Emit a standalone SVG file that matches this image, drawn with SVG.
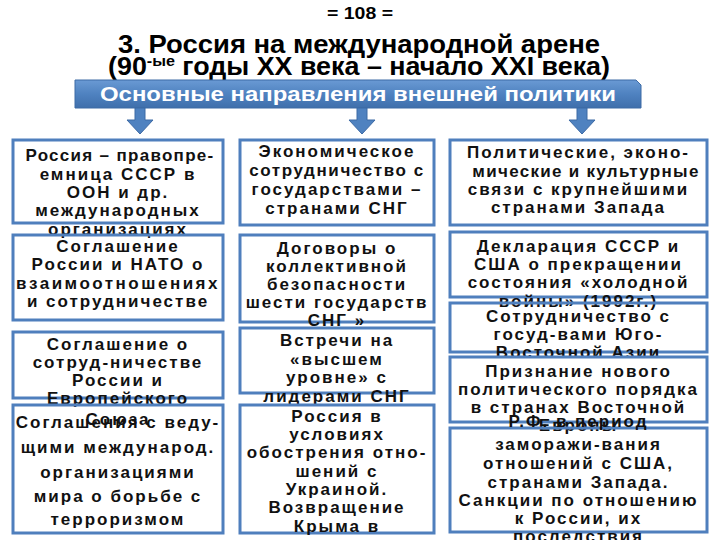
<svg xmlns="http://www.w3.org/2000/svg" width="720" height="540" viewBox="0 0 720 540">
<defs>
<linearGradient id="barG" x1="0" y1="0" x2="0" y2="1">
<stop offset="0" stop-color="#6a9ad4"/>
<stop offset="0.5" stop-color="#4f82c0"/>
<stop offset="1" stop-color="#3f6fab"/>
</linearGradient>
<style>
.t{font-family:"Liberation Sans",Arial,sans-serif;font-weight:bold;fill:#000}
.bx{fill:none;stroke:#4f7fbd;stroke-width:3}
.b{font-family:"Liberation Sans",Arial,sans-serif;font-weight:bold;font-size:17px;letter-spacing:2px;fill:#111;text-anchor:middle}
.arr{fill:#4f82c0;stroke:#3d6aa5;stroke-width:1}
</style>
</defs>
<rect width="720" height="540" fill="#fff"/>
<g id="title">
<text class="t" x="360" y="19" font-size="16" text-anchor="middle" textLength="66" lengthAdjust="spacingAndGlyphs">= 108 =</text>
<text class="t" x="359" y="53" font-size="25" text-anchor="middle" textLength="482" lengthAdjust="spacingAndGlyphs">3. Россия на международной арене</text>
<text class="t" x="359" y="75" font-size="25" text-anchor="middle" textLength="502" lengthAdjust="spacingAndGlyphs">(90<tspan font-size="15" dy="-9">-ые</tspan><tspan dy="9"> годы XX века – начало XXI века)</tspan></text>
</g>
<g id="header">
<polygon points="75,80 636,80 641,85 641,108 75,108" fill="url(#barG)" stroke="#3d6aa5" stroke-width="1"/>
<text x="358" y="101" font-family="'Liberation Sans',Arial,sans-serif" font-weight="bold" font-size="20" fill="#fff" text-anchor="middle" textLength="516" lengthAdjust="spacingAndGlyphs">Основные направления внешней политики</text>
</g>
<g id="connectors">
<polygon class="arr" points="135,108 145,108 145,120 153,120 140,134 127,120 135,120"/>
<polygon class="arr" points="357,108 367,108 367,120 375,120 362,134 349,120 357,120"/>
<polygon class="arr" points="577,108 587,108 587,120 595,120 582,134 569,120 577,120"/>
</g>
<g id="a1">
<rect class="bx" x="13" y="140" width="210" height="83"/>
<text class="b"><tspan x="120" y="161" letter-spacing="1.3">Россия – правопре-</tspan><tspan x="118" y="179.5">емница СССР в</tspan><tspan x="118" y="198">ООН и др.</tspan><tspan x="118" y="216">международных</tspan><tspan x="118" y="234.5">организациях</tspan></text>
</g>
<g id="a2">
<rect class="bx" x="13" y="235" width="210" height="85"/>
<text class="b"><tspan x="118" y="252">Соглашение</tspan><tspan x="118" y="270">России и НАТО о</tspan><tspan x="118" y="288.5" letter-spacing="2.5">взаимоотношениях</tspan><tspan x="118" y="306.5">и сотрудничестве</tspan></text>
</g>
<g id="a3">
<rect class="bx" x="13" y="332" width="210" height="66"/>
<text class="b"><tspan x="118" y="350">Соглашение о</tspan><tspan x="118" y="368">сотруд-ничестве</tspan><tspan x="118" y="386">России и</tspan><tspan x="118" y="404">Европейского</tspan><tspan x="118" y="425">Союза</tspan></text>
</g>
<g id="a4">
<rect class="bx" x="13" y="405" width="210" height="128"/>
<text class="b"><tspan x="118" y="428">Соглашения с веду-</tspan><tspan x="118" y="453">щими международ.</tspan><tspan x="118" y="478">организациями</tspan><tspan x="118" y="502">мира о борьбе с</tspan><tspan x="118" y="525">терроризмом</tspan></text>
</g>
<g id="b1">
<rect class="bx" x="240" y="140" width="194" height="85"/>
<text class="b"><tspan x="337" y="157">Экономическое</tspan><tspan x="337" y="176" letter-spacing="1.6">сотрудничество с</tspan><tspan x="337" y="195">государствами –</tspan><tspan x="337" y="214">странами СНГ</tspan></text>
</g>
<g id="b2">
<rect class="bx" x="240" y="235" width="194" height="87"/>
<text class="b"><tspan x="337" y="254">Договоры о</tspan><tspan x="337" y="272">коллективной</tspan><tspan x="337" y="290">безопасности</tspan><tspan x="337" y="308">шести государств</tspan><tspan x="337" y="326">СНГ »</tspan></text>
</g>
<g id="b3">
<rect class="bx" x="240" y="328" width="194" height="65"/>
<text class="b"><tspan x="337" y="346">Встречи на</tspan><tspan x="337" y="364.5">«высшем</tspan><tspan x="337" y="383">уровне» с</tspan><tspan x="337" y="401.5">лидерами СНГ</tspan></text>
</g>
<g id="b4">
<rect class="bx" x="240" y="405" width="194" height="128"/>
<text class="b"><tspan x="337" y="421.5">Россия в</tspan><tspan x="337" y="440">условиях</tspan><tspan x="337" y="458">обострения отно-</tspan><tspan x="337" y="476.5">шений с</tspan><tspan x="337" y="495">Украиной.</tspan><tspan x="337" y="513">Возвращение</tspan><tspan x="337" y="532">Крыма в</tspan></text>
</g>
<g id="c1">
<rect class="bx" x="450" y="140" width="257" height="85"/>
<text class="b"><tspan x="578.5" y="158">Политические, эконо-</tspan><tspan x="586" y="176.5" letter-spacing="1.3">мические и культурные</tspan><tspan x="578.5" y="195">связи с крупнейшими</tspan><tspan x="578.5" y="213">странами Запада</tspan></text>
</g>
<g id="c2">
<rect class="bx" x="450" y="232" width="257" height="65"/>
<text class="b"><tspan x="578.5" y="251.5">Декларация СССР и</tspan><tspan x="578.5" y="270">США о прекращении</tspan><tspan x="578.5" y="288">состояния «холодной</tspan><tspan x="578.5" y="306.5">войны» (1992г.)</tspan></text>
</g>
<g id="c3">
<rect class="bx" x="450" y="303" width="257" height="49"/>
<text class="b"><tspan x="578.5" y="321.5">Сотрудничество с</tspan><tspan x="578.5" y="340">госуд-вами Юго-</tspan><tspan x="578.5" y="358">Восточной Азии</tspan></text>
</g>
<g id="c4">
<rect class="bx" x="450" y="357" width="257" height="65"/>
<text class="b"><tspan x="578.5" y="376.5">Признание нового</tspan><tspan x="578.5" y="395">политического порядка</tspan><tspan x="578.5" y="413">в странах Восточной</tspan><tspan x="578.5" y="431">Европы</tspan></text>
</g>
<g id="c5">
<rect class="bx" x="450" y="428" width="257" height="104"/>
<text class="b"><tspan x="578.5" y="427">Р.Ф. в период</tspan><tspan x="578.5" y="450">заморажи-вания</tspan><tspan x="578.5" y="469">отношений с США,</tspan><tspan x="578.5" y="488">странами Запада.</tspan><tspan x="578.5" y="506">Санкции по отношению</tspan><tspan x="578.5" y="524">к России, их</tspan><tspan x="578.5" y="542">последствия</tspan></text>
</g>
</svg>
